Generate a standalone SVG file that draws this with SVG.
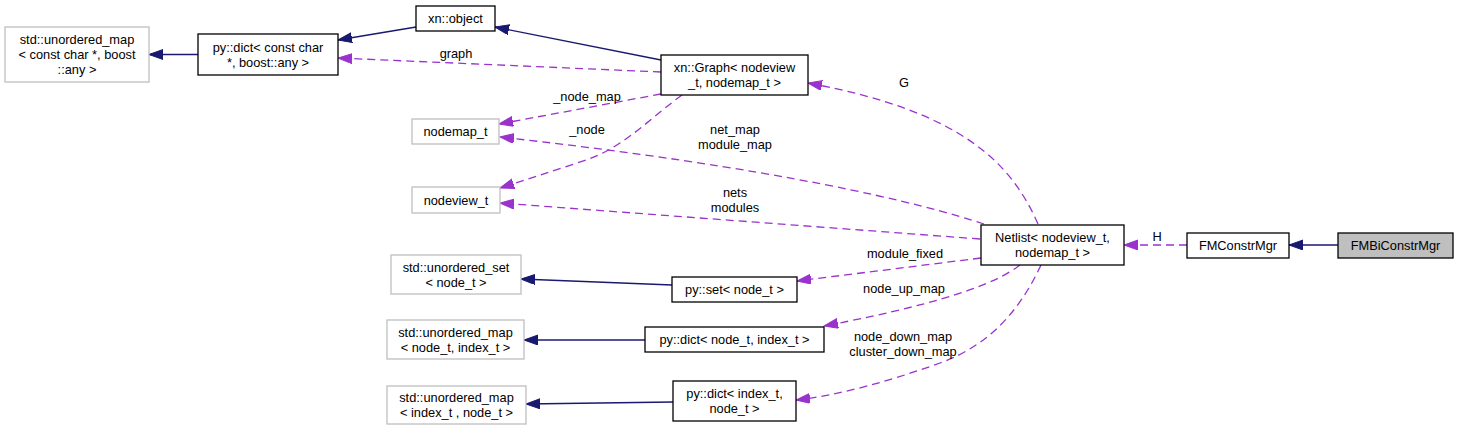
<svg xmlns="http://www.w3.org/2000/svg" width="1459" height="431" viewBox="0 0 1459 431">
<defs>
<style>
text{font-family:"Liberation Sans",Arial,Helvetica,sans-serif;font-size:12.8px;fill:#000;text-anchor:middle}
.nb{fill:#fff;stroke:#000;stroke-width:1.3}
.ng{fill:#fff;stroke:#bfbfbf;stroke-width:1.3}
.nh{fill:#bfbfbf;stroke:#000;stroke-width:1.3}
.inh{fill:none;stroke:#191970;stroke-width:1.3;marker-end:url(#ah)}
.use{fill:none;stroke:#9a32cd;stroke-width:1.3;stroke-dasharray:8,5;marker-end:url(#ap)}
</style>
<marker id="ah" markerUnits="userSpaceOnUse" markerWidth="16" markerHeight="12" refX="14" refY="5" orient="auto"><path d="M0,0 L14,5 L0,10 Z" fill="#191970" stroke="#191970" stroke-width="1"/></marker>
<marker id="ap" markerUnits="userSpaceOnUse" markerWidth="16" markerHeight="12" refX="14" refY="5" orient="auto"><path d="M0,0 L14,5 L0,10 Z" fill="#9a32cd" stroke="#9a32cd" stroke-width="1"/></marker>
</defs>
<rect width="1459" height="431" fill="#fff"/>
<g id="connectors">
<path class="inh" d="M198,54.5 L149,54.5"/>
<path class="inh" d="M416,27 L338,40"/>
<path class="inh" d="M661,60 L495,27"/>
<path class="use" d="M661,72 L338,58"/>
<path class="use" d="M661,94 L499,124"/>
<path class="use" d="M682,95 C645,122 622,150 577,163 C550,172 525,180 500,188"/>
<path class="use" d="M984,224 C920,203 780,168 500,137"/>
<path class="use" d="M980,239 L500,203"/>
<path class="use" d="M1038,224 C1012,165 965,112 808,83"/>
<path class="use" d="M981,258 L797,281"/>
<path class="use" d="M1020,265 C1000,280 960,300 824,326"/>
<path class="use" d="M1041,265 C1020,310 990,345 940,363 C890,381 840,395 796,400"/>
<path class="use" d="M1187,245 L1124,245"/>
<path class="inh" d="M1338,245 L1289,245"/>
<path class="inh" d="M672,285 L521,279"/>
<path class="inh" d="M645,340 L524,340"/>
<path class="inh" d="M673,402 L526,404"/>
<text x="456" y="57.5">graph</text>
<text x="587" y="100.5">_node_map</text>
<text x="587" y="133.5">_node</text>
<text x="735" y="133.5">net_map</text>
<text x="735" y="148.5">module_map</text>
<text x="735" y="196.5">nets</text>
<text x="735" y="211.5">modules</text>
<text x="904" y="86.5">G</text>
<text x="905" y="257.5">module_fixed</text>
<text x="904" y="292.5">node_up_map</text>
<text x="903" y="340.5">node_down_map</text>
<text x="903" y="355.5">cluster_down_map</text>
<text x="1157" y="240.5">H</text>
</g>
<g id="n_std_umap_cc"><rect class="ng" x="5" y="27" width="144" height="55"/><text x="77" y="44">std::unordered_map</text><text x="77" y="59">&lt; const char *, boost</text><text x="77" y="74">::any &gt;</text></g>
<g id="n_pydict_cc"><rect class="nb" x="198" y="34" width="140" height="41"/><text x="268" y="51.5">py::dict&lt; const char</text><text x="268" y="66.5"> *, boost::any &gt;</text></g>
<g id="n_xnobject"><rect class="nb" x="416" y="6" width="79" height="25"/><text x="455.5" y="23">xn::object</text></g>
<g id="n_xngraph"><rect class="nb" x="661" y="55" width="147" height="40"/><text x="734.5" y="72">xn::Graph&lt; nodeview</text><text x="734.5" y="87">_t, nodemap_t &gt;</text></g>
<g id="n_nodemap"><rect class="ng" x="412" y="119" width="87" height="25"/><text x="455.5" y="136">nodemap_t</text></g>
<g id="n_nodeview"><rect class="ng" x="412" y="187" width="88" height="26"/><text x="456" y="204.5">nodeview_t</text></g>
<g id="n_netlist"><rect class="nb" x="981" y="225" width="143" height="40"/><text x="1052.5" y="242">Netlist&lt; nodeview_t,</text><text x="1052.5" y="257"> nodemap_t &gt;</text></g>
<g id="n_fmconstr"><rect class="nb" x="1187" y="233" width="102" height="25"/><text x="1238" y="250">FMConstrMgr</text></g>
<g id="n_fmbiconstr"><rect class="nh" x="1338" y="233" width="115" height="25"/><text x="1395.5" y="250">FMBiConstrMgr</text></g>
<g id="n_std_uset"><rect class="ng" x="391" y="255" width="130" height="39"/><text x="456" y="271.5">std::unordered_set</text><text x="456" y="286.5">&lt; node_t &gt;</text></g>
<g id="n_pyset"><rect class="nb" x="672" y="277" width="125" height="25"/><text x="734.5" y="294">py::set&lt; node_t &gt;</text></g>
<g id="n_std_umap_ni"><rect class="ng" x="387" y="320" width="137" height="39"/><text x="455.5" y="336.5">std::unordered_map</text><text x="455.5" y="351.5">&lt; node_t, index_t &gt;</text></g>
<g id="n_pydict_ni"><rect class="nb" x="645" y="327" width="179" height="25"/><text x="734.5" y="344">py::dict&lt; node_t, index_t &gt;</text></g>
<g id="n_std_umap_in"><rect class="ng" x="387" y="386" width="139" height="38"/><text x="456.5" y="402">std::unordered_map</text><text x="456.5" y="417">&lt; index_t , node_t &gt;</text></g>
<g id="n_pydict_in"><rect class="nb" x="673" y="381" width="123" height="40"/><text x="734.5" y="398">py::dict&lt; index_t,</text><text x="734.5" y="413">node_t &gt;</text></g>
</svg>
